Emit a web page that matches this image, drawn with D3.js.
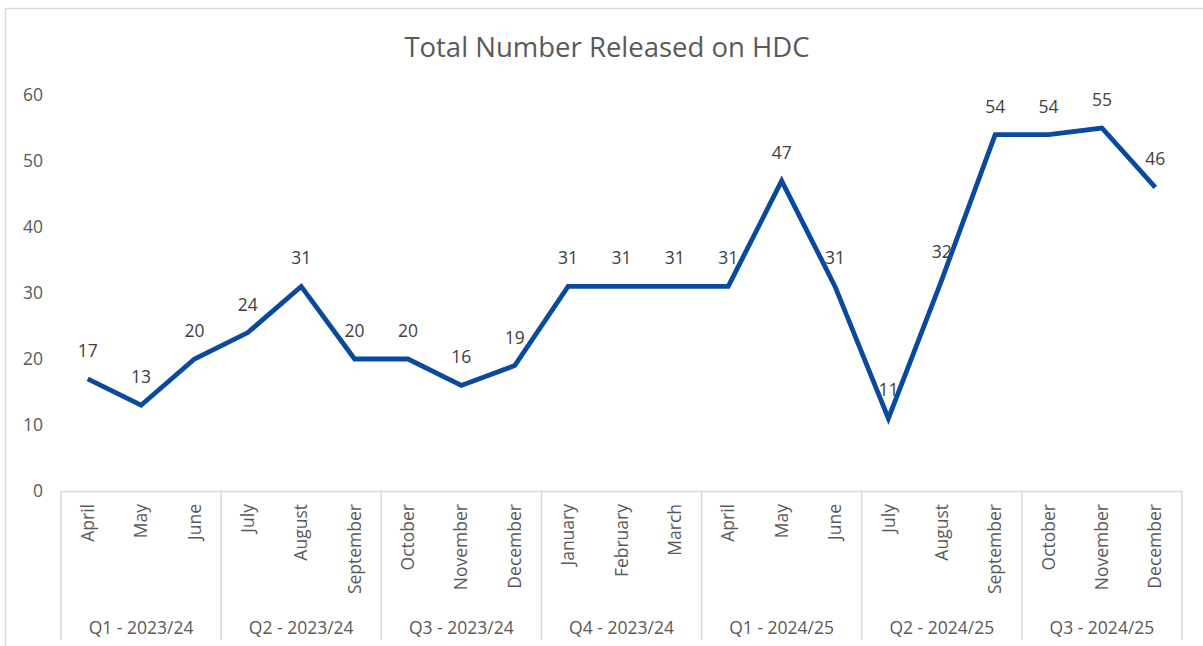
<!DOCTYPE html>
<html><head><meta charset="utf-8">
<script src="https://cdn.jsdelivr.net/npm/d3@7"></script>
<style>body{margin:0;background:#fff;} svg{display:block;font-family:"Open Sans", sans-serif;}</style>
</head><body>
<svg id="c" width="1203" height="646"></svg>
<script>
const months = ["April","May","June","July","August","September","October","November","December","January","February","March","April","May","June","July","August","September","October","November","December"];
const quarters = ["Q1 - 2023/24","Q2 - 2023/24","Q3 - 2023/24","Q4 - 2023/24","Q1 - 2024/25","Q2 - 2024/25","Q3 - 2024/25"];
const values = [17,13,20,24,31,20,20,16,19,31,31,31,31,47,31,11,32,54,54,55,46];
const yTicks = [0,10,20,30,40,50,60];

const svg = d3.select("#c");
svg.append("rect").attr("x",5.5).attr("y",8.5).attr("width",1200).attr("height",650)
  .attr("fill","#fff").attr("stroke","#d9d9d9").attr("stroke-width",1.5);

const x0 = 61, x1 = 1182, yBase = 491, yTop = 95;
const idx = d3.range(values.length);
const x = d3.scaleBand().domain(idx).range([x0,x1]).padding(0);
const y = d3.scaleLinear().domain([0,60]).range([yBase,yTop]);
const grey = "#595959";
const ff = "'Open Sans', sans-serif";

svg.append("text").attr("x",607).attr("y",57).attr("text-anchor","middle")
  .attr("font-size",27.5).attr("fill",grey).text("Total Number Released on HDC");

// y axis labels
const ya = svg.append("g").attr("transform",`translate(${x0},0)`)
  .call(d3.axisLeft(y).tickValues(yTicks).tickSize(0).tickPadding(18));
ya.select(".domain").remove();
ya.selectAll("text").attr("font-size",17.5).attr("fill",grey).attr("font-family",ff);

// x axis line
const xa = svg.append("g").attr("transform",`translate(0,${yBase})`)
  .call(d3.axisBottom(x).tickSize(0).tickFormat(i=>months[i]));
xa.select(".domain").attr("stroke","#d9d9d9").attr("stroke-width",1.5);
xa.selectAll(".tick text").attr("font-size",17.5).attr("fill",grey).attr("font-family",ff)
  .attr("transform","rotate(-90)").attr("text-anchor","end").attr("x",-13).attr("y",0).attr("dy","0.35em");

// quarter separators and labels
const qScale = d3.scaleBand().domain(d3.range(quarters.length)).range([x0,x1]);
const qb = d3.range(quarters.length+1).map(k=> k<quarters.length ? qScale(k) : x1);
svg.append("g").selectAll("line").data(qb).join("line")
  .attr("x1",d=>d).attr("x2",d=>d).attr("y1",yBase).attr("y2",640)
  .attr("stroke","#d9d9d9").attr("stroke-width",1.5);
svg.append("g").selectAll("text").data(quarters).join("text")
  .attr("x",(d,i)=>qScale(i)+qScale.bandwidth()/2).attr("y",634)
  .attr("text-anchor","middle").attr("font-size",17.5).attr("fill",grey).text(d=>d);

// line
const line = d3.line().x(i=>x(i)+x.bandwidth()/2).y(i=>y(values[i]));
svg.append("path").datum(idx).attr("d",line).attr("fill","none")
  .attr("stroke","#0A4A9E").attr("stroke-width",4.8).attr("stroke-linejoin","miter");

// data labels
svg.append("g").selectAll("text").data(idx).join("text")
  .attr("x",i=>x(i)+x.bandwidth()/2).attr("y",i=>y(values[i])-22)
  .attr("text-anchor","middle").attr("font-size",17.5).attr("fill","#404040").text(i=>values[i]);
</script>
</body></html>
